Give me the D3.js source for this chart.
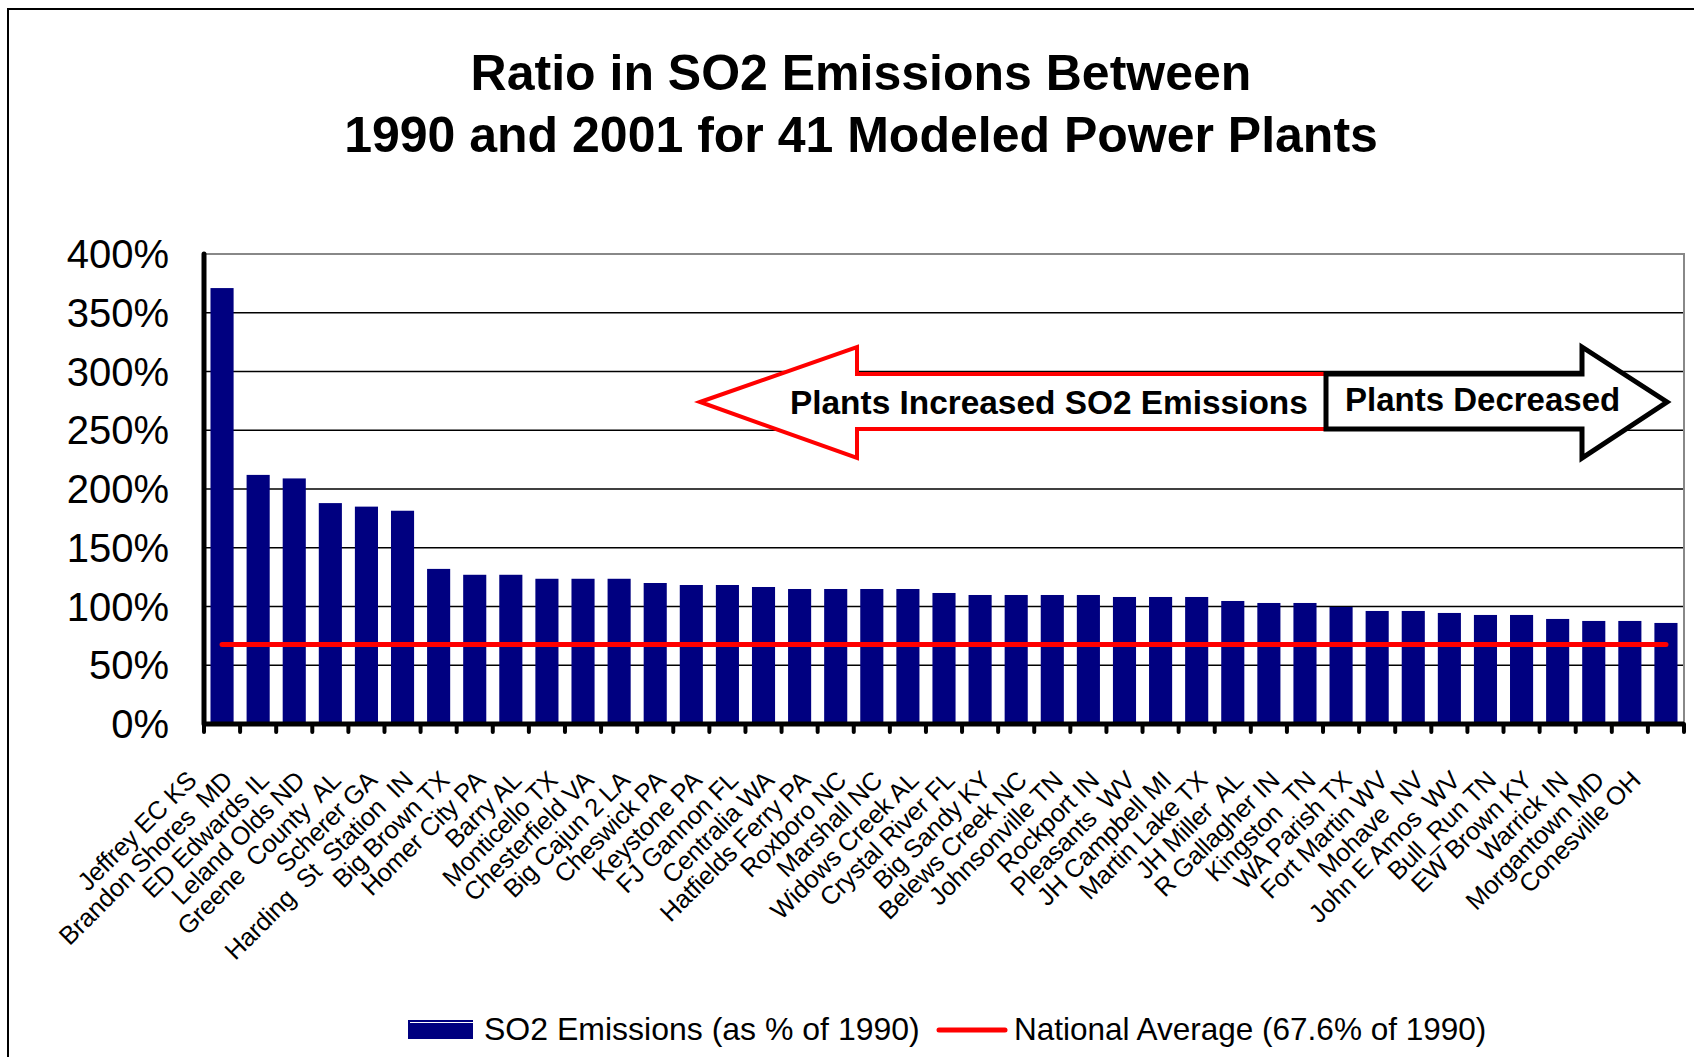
<!DOCTYPE html>
<html>
<head>
<meta charset="utf-8">
<script src="https://cdn.jsdelivr.net/npm/d3@7"></script>
<style>
  body { margin: 0; background: #fff; }
  svg { display: block; font-family: "Liberation Sans", Arial, sans-serif; }
  text { white-space: pre; }
</style>
</head>
<body>
<div id="chart"></div>
<script>
// Plant names, in the order of the bars
const plants = [
  "Jeffrey EC KS", "Brandon Shores  MD", "ED Edwards IL", "Leland Olds ND",
  "Greene  County  AL", "Scherer GA", "Harding  St  Station  IN", "Big Brown TX",
  "Homer City PA", "Barry AL", "Monticello TX", "Chesterfield VA",
  "Big Cajun 2 LA", "Cheswick PA", "Keystone PA", "FJ Gannon FL",
  "Centralia WA", "Hatfields Ferry PA", "Roxboro NC", "Marshall NC",
  "Widows Creek AL", "Crystal River FL", "Big Sandy KY", "Belews Creek NC",
  "Johnsonville TN", "Rockport IN", "Pleasants  WV", "JH Campbell MI",
  "Martin Lake TX", "JH Miller  AL", "R Gallagher IN", "Kingston  TN",
  "WA Parish TX", "Fort Martin WV", "Mohave  NV", "John E Amos  WV",
  "Bull_Run TN", "EW Brown KY", "Warrick IN", "Morgantown MD", "Conesville OH"
];

// 2001 emissions as % of 1990
const so2Pct = [
  371, 212, 209, 188, 185, 181.5, 132, 127, 127, 123.6, 123.6, 123.6,
  120, 118.3, 118.3, 116.6, 114.9, 114.9, 114.9, 114.9, 111.5, 109.8,
  109.8, 109.8, 109.8, 108.1, 108.1, 108.1, 104.7, 103, 103, 99.6,
  96.2, 96.2, 94.5, 92.8, 92.8, 89.4, 87.7, 87.7, 86
];

const nationalAvg = 67.6;
const yTicks = [0, 50, 100, 150, 200, 250, 300, 350, 400];
const titleLines = [
  "Ratio in SO2 Emissions Between",
  "1990 and 2001 for 41 Modeled Power Plants"
];
const legendLabels = ["SO2 Emissions (as % of 1990)", "National Average (67.6% of 1990)"];

const W = 1694, H = 1057;
const plot = { left: 204, right: 1684, top: 254, bottom: 724 };
const barColor = "#000080";

const svg = d3.select("#chart").append("svg")
  .attr("width", W)
  .attr("height", H);

// outer frame (right and bottom edges fall outside the picture)
svg.append("rect")
  .attr("x", 8).attr("y", 9)
  .attr("width", W + 20).attr("height", H + 20)
  .attr("fill", "none").attr("stroke", "#000").attr("stroke-width", 2);

// title
svg.append("g").selectAll("text")
  .data(titleLines)
  .join("text")
  .attr("x", 861)
  .attr("y", (d, i) => 90 + i * 62)
  .attr("text-anchor", "middle")
  .style("font-size", "50px")
  .style("font-weight", "bold")
  .text(d => d);

let x = d3.scaleBand()
  .domain(plants)
  .range([plot.left, plot.right])
  .paddingInner(0.36)
  .paddingOuter(0.18);

let y = d3.scaleLinear().domain([0, 400]).range([plot.bottom, plot.top]);

// gridlines
svg.append("g")
  .selectAll("line")
  .data(yTicks.filter(t => t > 0 && t < 400))
  .join("line")
  .attr("x1", plot.left).attr("x2", plot.right)
  .attr("y1", d => y(d)).attr("y2", d => y(d))
  .attr("stroke", "#000").attr("stroke-width", 1.5);

// plot area border top / right (gray)
svg.append("path")
  .attr("d", `M${plot.left},${y(400)}H${plot.right}V${plot.bottom}`)
  .attr("fill", "none").attr("stroke", "#888").attr("stroke-width", 2);

// y-axis labels
svg.append("g")
  .selectAll("text")
  .data(yTicks)
  .join("text")
  .attr("x", 169)
  .attr("y", d => y(d) + 14)
  .attr("text-anchor", "end")
  .style("font-size", "40px")
  .text(d => d + "%");

// bars
svg.append("g")
  .selectAll("rect")
  .data(so2Pct)
  .join("rect")
  .attr("x", (d, i) => x(plants[i]))
  .attr("y", d => y(d))
  .attr("width", x.bandwidth())
  .attr("height", d => y(0) - y(d))
  .attr("fill", barColor);

// national average line
svg.append("line")
  .attr("x1", x(plants[0]) + x.bandwidth() / 2)
  .attr("x2", x(plants[plants.length - 1]) + x.bandwidth() / 2)
  .attr("y1", y(nationalAvg)).attr("y2", y(nationalAvg))
  .attr("stroke", "red").attr("stroke-width", 5)
  .attr("stroke-linecap", "round");

// x-axis ticks at band boundaries
let half = x.step() * x.paddingInner() / 2;
let tickPos = plants.map(p => x(p) - half).concat([plot.right]);
svg.append("g")
  .selectAll("line")
  .data(tickPos)
  .join("line")
  .attr("x1", d => d).attr("x2", d => d)
  .attr("y1", plot.bottom).attr("y2", plot.bottom + 8)
  .attr("stroke", "#000").attr("stroke-width", 4)
  .attr("stroke-linecap", "round");

// axis lines
svg.append("line")
  .attr("x1", plot.left).attr("x2", plot.right)
  .attr("y1", plot.bottom).attr("y2", plot.bottom)
  .attr("stroke", "#000").attr("stroke-width", 5);
svg.append("line")
  .attr("x1", plot.left).attr("x2", plot.left)
  .attr("y1", y(400)).attr("y2", plot.bottom)
  .attr("stroke", "#000").attr("stroke-width", 5)
  .attr("stroke-linecap", "round");

// x-axis labels, tilted
svg.append("g")
  .selectAll("text")
  .data(plants)
  .join("text")
  .attr("transform", d => "translate(" + (x(d) + x.bandwidth() / 2 - 24) + ",782)rotate(-45)")
  .attr("text-anchor", "end")
  .style("font-size", "25.5px")
  .style("letter-spacing", "-0.3px")
  .text(d => d);

// arrows
let arrowMidY = 402;
svg.append("path")
  .attr("d", `M700,${arrowMidY}L857,347V374H1326V429H857V458Z`)
  .attr("fill", "#fff").attr("stroke", "red").attr("stroke-width", 4)
  .attr("stroke-linejoin", "miter");
svg.append("path")
  .attr("d", `M1326,374H1582V347L1667,${arrowMidY}L1582,458V429H1326Z`)
  .attr("fill", "#fff").attr("stroke", "#000").attr("stroke-width", 5);

svg.append("text")
  .attr("x", 790).attr("y", 414)
  .style("font-size", "33.4px").style("font-weight", "bold")
  .text("Plants Increased SO2 Emissions");
svg.append("text")
  .attr("x", 1345).attr("y", 411)
  .style("font-size", "33px").style("font-weight", "bold")
  .text("Plants Decreased");

// legend
let lg = svg.append("g");
lg.append("rect")
  .attr("x", 408).attr("y", 1020).attr("width", 65).attr("height", 19)
  .attr("fill", barColor);
lg.append("line")
  .attr("x1", 410).attr("x2", 473).attr("y1", 1022.5).attr("y2", 1022.5)
  .attr("stroke", "#fff").attr("stroke-width", 1);
lg.append("text")
  .attr("x", 484).attr("y", 1040)
  .style("font-size", "32px")
  .text(legendLabels[0]);
lg.append("line")
  .attr("x1", 939).attr("x2", 1005).attr("y1", 1030).attr("y2", 1030)
  .attr("stroke", "red").attr("stroke-width", 5).attr("stroke-linecap", "round");
lg.append("text")
  .attr("x", 1014).attr("y", 1040)
  .style("font-size", "31.5px")
  .text(legendLabels[1]);
</script>
</body>
</html>
